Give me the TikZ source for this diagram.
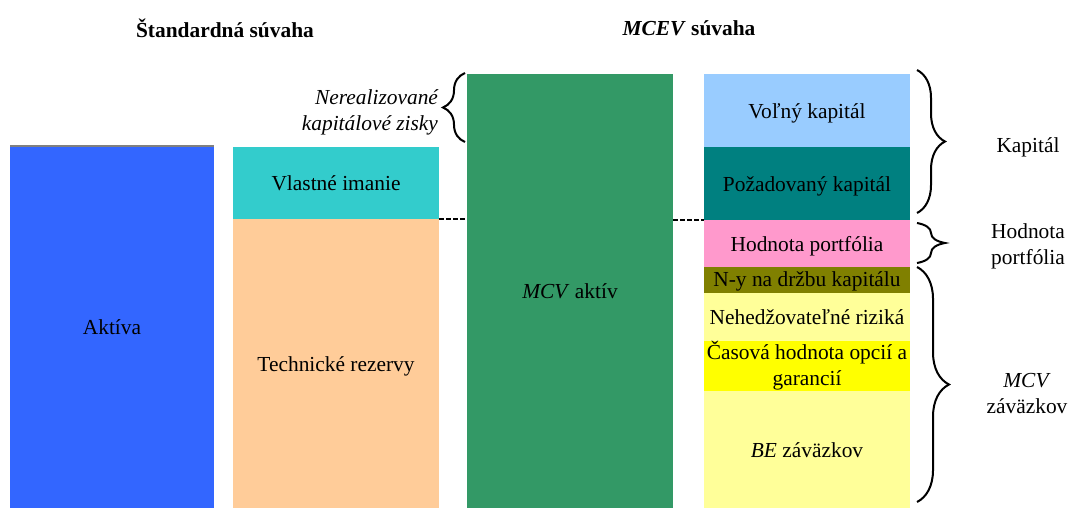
\documentclass[tikz,border=0pt]{standalone}
\usepackage{fontspec}
\setmainfont{Liberation Serif}
\usepackage{xcolor}
\usetikzlibrary{positioning,decorations.pathreplacing}
\definecolor{aktblue}{HTML}{3366FF}
\definecolor{eqcyan}{HTML}{33CCCC}
\definecolor{tecorange}{HTML}{FFCC99}
\definecolor{mcvgreen}{HTML}{339966}
\definecolor{freeblue}{HTML}{99CCFF}
\definecolor{reqteal}{HTML}{008080}
\definecolor{pvpink}{HTML}{FF99CC}
\definecolor{costolive}{HTML}{808000}
\definecolor{riskyellow}{HTML}{FFFF99}
\definecolor{tvogyellow}{HTML}{FFFF00}
\tikzset{
  blk/.style   = {rectangle, anchor=north west, minimum width=103pt, inner sep=0pt,
                  outer sep=0pt, align=center, text height=9.7pt, text depth=2pt},
  stk/.style   = {blk, anchor=north, below=0pt of #1},
  brc/.style   = {decorate, decoration={brace, amplitude=#1}, line width=1pt},
  brc/.default = 14pt,
  lnk/.style   = {line width=1.2pt, dash pattern=on 2.5pt off 1pt},
  side/.style  = {align=center},
  ttl/.style   = {font=\fontsize{10.7pt}{13pt}\selectfont\bfseries},
}

\begin{document}
\begin{tikzpicture}[x=0.5pt, y=-0.5pt, font=\fontsize{10.7pt}{13pt}\selectfont]
  \useasboundingbox (0,0) rectangle (1068,508);

  \node[ttl] (tstd) at (225,28) {Štandardná súvaha};
  \node[ttl] (tmcev) at (689,28) {\textit{MCEV} súvaha};

  % --- standard balance sheet ---
  \node[blk, fill=aktblue, minimum width=102pt, minimum height=181pt] (aktiva) at (10,146) {Aktíva};
  \draw[gray, line width=1pt] (aktiva.north west) -- (aktiva.north east);
  \node[blk, fill=eqcyan, minimum height=36pt] (imanie) at (233,147) {Vlastné imanie};
  \node[stk=imanie, fill=tecorange, minimum width=103pt, minimum height=144.5pt] (rezervy) {Technické rezervy};

  % --- MCEV balance sheet ---
  \node[blk, fill=mcvgreen, minimum height=217pt] (mcv) at (467,74) {\textit{MCV} aktív};
  \node[blk, fill=freeblue, minimum height=36.5pt] (volny) at (704,74) {Voľný kapitál};
  \node[stk=volny, fill=reqteal, minimum height=36.5pt] (pozad) {Požadovaný kapitál};
  \node[stk=pozad, fill=pvpink, minimum height=23.5pt] (hodn) {Hodnota portfólia};
  \node[stk=hodn, fill=costolive, minimum height=13pt, text height=8.5pt, text depth=2.5pt] (nakl) {N-y na držbu kapitálu};
  \node[stk=nakl, fill=riskyellow, minimum height=24pt] (rizika) {Nehedžovateľné riziká};
  \node[stk=rizika, fill=tvogyellow, minimum height=25pt, text height={}, text depth={}] (opcie) {Časová hodnota opcií a\\garancií};
  \node[stk=opcie, fill=riskyellow, minimum height=58.5pt] (bez) {\textit{BE} záväzkov};

  \draw[lnk] (imanie.south east) -- (imanie.south east -| mcv.west);
  \draw[lnk] (mcv.east |- pozad.south west) -- (pozad.south west);

  % --- braces ---
  \draw[brc=11pt] ([shift={(-1pt,-34pt)}]mcv.north west) -- ([shift={(-1pt,0.5pt)}]mcv.north west);
  \node[side, anchor=east, font=\fontsize{10.7pt}{13pt}\selectfont\itshape, align=right] (nerea) at (445,112)
        {Nerealizované\\kapitálové zisky};

  \draw[brc] ([shift={(3.5pt,2pt)}]volny.north east) -- ([shift={(3.5pt,3.5pt)}]pozad.south east);
  \draw[brc] ([shift={(3.5pt,-1.5pt)}]hodn.north east) -- ([shift={(3.5pt,2pt)}]hodn.south east);
  \draw[brc=16pt] ([shift={(3.5pt,0pt)}]nakl.north east) -- ([shift={(3.5pt,3pt)}]bez.south east);

  \node[side] (lkap) at (1028,147) {Kapitál};
  \node[side] (lhodn) at (1028,246) {Hodnota\\portfólia};
  \node[side] (lzav) at (1027,394) {\textit{MCV}\\záväzkov};
\end{tikzpicture}
\end{document}
